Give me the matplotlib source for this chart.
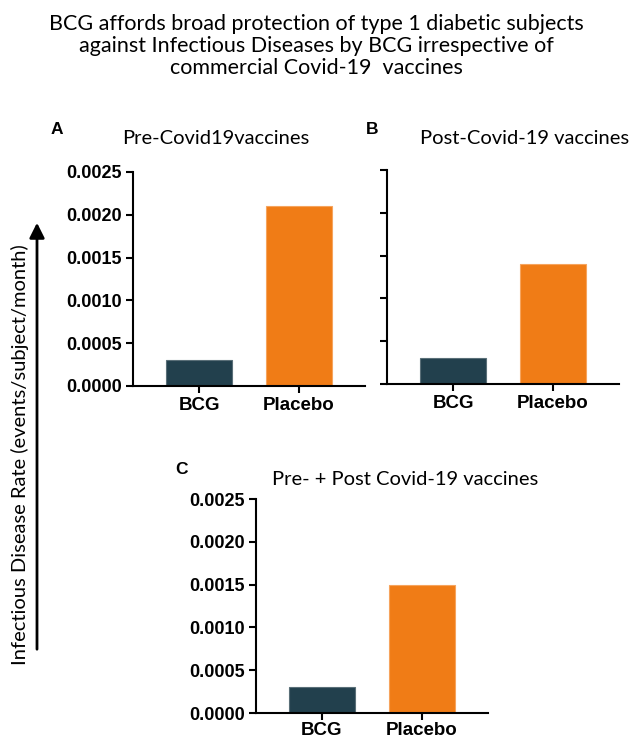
import matplotlib
matplotlib.use("Agg")
import matplotlib.pyplot as plt

categories = ["BCG", "Placebo"]
pre_vals = [0.00030, 0.00210]
post_vals = [0.00030, 0.00140]
combined_vals = [0.00030, 0.00150]
yticks = [0.0, 0.0005, 0.0010, 0.0015, 0.0020, 0.0025]
ytick_labels = ["0.0000", "0.0005", "0.0010", "0.0015", "0.0020", "0.0025"]
panel_titles = ["Pre-Covid19vaccines", "Post-Covid-19 vaccines", "Pre- + Post Covid-19 vaccines"]
panel_letters = ["A", "B", "C"]
colors = ["#22404d", "#f07c16"]

W, H = 631, 739
fig = plt.figure(figsize=(W / 100, H / 100), dpi=100)

def ax_px(left, right, top, bottom):
    return fig.add_axes([left / W, (H - bottom) / H, (right - left) / W, (bottom - top) / H])

tick_font = dict(family="Liberation Sans", weight="bold", size=13)
xtick_font = dict(family="Liberation Sans", weight="bold", size=13.5)

def draw(ax, vals, show_ylabels=True, xpad=3):
    x = list(range(len(categories)))
    ax.bar(x, vals, width=0.66, color=colors, edgecolor=["#5a6f78", "#f6a45e"], linewidth=0.8)
    ax.set_xlim(-0.66, 1.66)
    ax.set_ylim(0, 0.0025)
    ax.set_xticks(x)
    ax.set_xticklabels(categories, **xtick_font)
    ax.set_yticks(yticks)
    if show_ylabels:
        ax.set_yticklabels(ytick_labels, **tick_font)
    else:
        ax.set_yticklabels([])
    for s in ["top", "right"]:
        ax.spines[s].set_visible(False)
    for s in ["left", "bottom"]:
        ax.spines[s].set_linewidth(1.5)
    ax.tick_params(axis="both", width=1.5, length=5, pad=3)
    ax.tick_params(axis="x", pad=xpad)

axA = ax_px(133, 365, 172, 386)
draw(axA, pre_vals)
axB = ax_px(387, 619, 170, 384)
draw(axB, post_vals, show_ylabels=False)
axC = ax_px(256, 488, 499, 713)
draw(axC, combined_vals, xpad=1.5)

title_font = dict(family="Lato", size=15.5)
fig.text(316 / W, 1 - 46 / H,
         "BCG affords broad protection of type 1 diabetic subjects\n"
         "against Infectious Diseases by BCG irrespective of\n"
         "commercial Covid-19  vaccines",
         ha="center", va="center", linespacing=1.15, **title_font)

sub_font = dict(family="Lato", size=14.5)
fig.text(216 / W, 1 - 139 / H, panel_titles[0], ha="center", va="center", **sub_font)
fig.text(525 / W, 1 - 139 / H, panel_titles[1], ha="center", va="center", **sub_font)
fig.text(405 / W, 1 - 479 / H, panel_titles[2], ha="center", va="center", **sub_font)

letter_font = dict(family="Liberation Sans", weight="bold", size=12.5)
fig.text(57 / W, 1 - 130 / H, panel_letters[0], ha="center", va="center", **letter_font)
fig.text(372 / W, 1 - 130 / H, panel_letters[1], ha="center", va="center", **letter_font)
fig.text(182 / W, 1 - 470 / H, panel_letters[2], ha="center", va="center", **letter_font)

fig.text(20 / W, 1 - 455 / H, "Infectious Disease Rate (events/subject/month)",
         rotation=90, ha="center", va="center", family="Lato", size=14.5)
fig.patches.append(matplotlib.patches.FancyArrowPatch(
    (37 / W, 1 - 652 / H), (37 / W, 1 - 220 / H), transform=fig.transFigure,
    arrowstyle="-|>,head_length=6,head_width=3", linewidth=2, color="black",
    mutation_scale=1.5))

fig.savefig("out.png", dpi=100)
